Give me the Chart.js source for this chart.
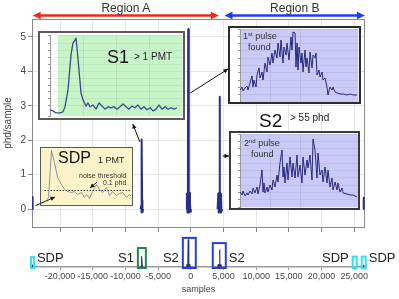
<!DOCTYPE html>
<html>
<head>
<meta charset="utf-8">
<script src="https://cdn.jsdelivr.net/npm/chart.js@4.4.1/dist/chart.umd.min.js"></script>
<style>
html, body { margin: 0; padding: 0; background: #fff; }
#wrap { position: relative; width: 399px; height: 299px; overflow: hidden; font-family: "Liberation Sans", Arial, sans-serif; color: #222; }
canvas { position: absolute; display: block; }
.inset { position: absolute; box-sizing: border-box; background: #fff; }
.inset canvas { left: 0; top: 0; }
.t { position: absolute; white-space: nowrap; line-height: 1; }
.sup { position: relative; top: -3px; font-size: 6px; }
</style>
</head>
<body>
<div id="wrap">
  <canvas id="main" width="399" height="240" style="left:0;top:0"></canvas>
  <canvas id="strip" width="399" height="69" style="left:0;top:230px"></canvas>

  <div class="inset" id="boxS1" style="left:38px;top:31px;width:147px;height:89px;border:2px solid #5a5a5a">
    <canvas id="cS1" width="143" height="85"></canvas>
  </div>
  <div class="inset" id="boxP1" style="left:228px;top:26px;width:133px;height:78px;border:2px solid #2c2c2c">
    <canvas id="cP1" width="129" height="74"></canvas>
  </div>
  <div class="inset" id="boxP2" style="left:229px;top:131px;width:131px;height:79px;border:2px solid #3a3a3a">
    <canvas id="cP2" width="127" height="75"></canvas>
  </div>
  <div class="inset" id="boxSDP" style="left:40px;top:147px;width:93px;height:59px;border:1.5px solid #5a5a5a;background:#fdf3c8">
    <canvas id="cSDP" width="90" height="56"></canvas>
  </div>

  <canvas id="overlay" width="399" height="299" style="left:0;top:0;pointer-events:none"></canvas>

  <div class="t" id="lblA" style="top:2px;font-size:12px;color:#333">Region A</div>
  <div class="t" id="lblB" style="top:2px;font-size:12px;color:#333">Region B</div>

  <div class="t" style="left:107px;top:48px;font-size:18px;color:#111">S1</div>
  <div class="t" style="left:134px;top:51.5px;font-size:10px;color:#222">&gt; 1 PMT</div>

  <div class="t" style="left:243px;top:31.5px;font-size:9px;color:#333">1<span class="sup">st</span> pulse</div>
  <div class="t" style="left:248px;top:43px;font-size:9px;color:#333">found</div>

  <div class="t" style="left:259px;top:111px;font-size:19px;color:#111">S2</div>
  <div class="t" style="left:290px;top:112.5px;font-size:10px;color:#222">&gt; 55 phd</div>

  <div class="t" style="left:244px;top:138.5px;font-size:9px;color:#333">2<span class="sup">nd</span> pulse</div>
  <div class="t" style="left:251px;top:149.5px;font-size:9px;color:#333">found</div>

  <div class="t" style="left:58px;top:149.5px;font-size:16px;color:#111">SDP</div>
  <div class="t" style="left:98px;top:155.5px;font-size:9px;color:#222">1 PMT</div>
  <div class="t" style="left:79px;top:172px;font-size:7px;color:#333">noise threshold</div>
  <div class="t" style="left:103px;top:179px;font-size:7px;color:#333">0.1 phd</div>
</div>

<script>
// axis ticks
const xTicks = [-20000, -15000, -10000, -5000, 0, 5000, 10000, 15000, 20000, 25000];
const yTicks = [0, 1, 2, 3, 4, 5];

// full trace, samples vs phd/sample, only the pulses are stored
const sdpLeftX = [-24280, -24230, -24180];
const sdpLeftY = [0, 0.35, 0];
const s1X = [-7700, -7600, -7550, -7500, -7450, -7400, -7300];
const s1Y = [0, 0.1, -0.1, 2.02, 0.25, -0.09, 0];
const s2aX = [-700, -600, -520, -450, -400, -350, -280, -200, -130, -60, 0];
const s2aY = [0, 0.45, -0.1, 0.3, 5.22, 0.4, -0.1, 0.47, 0.2, -0.08, 0];
const s2bX = [4100, 4200, 4270, 4330, 4400, 4460, 4530, 4600, 4680, 4750];
const s2bY = [0, 0.45, -0.1, 0.4, 3.26, 0.35, -0.1, 0.45, -0.05, 0];
const sdpRightX = [26380, 26430, 26480];
const sdpRightY = [0, 0.33, 0];

// S1 zoom (phd/sample)
const s1ZoomX = [0, 3, 6, 10, 13, 15, 18, 21, 23, 25, 26, 27, 29, 31, 33, 36, 38, 40, 43, 46, 49, 52, 55, 58, 61, 64, 67, 70, 73, 76, 79, 82, 85, 88, 91, 94, 97, 100, 103, 106, 109, 112, 115, 118, 121, 124, 127];
const s1ZoomY = [2.88, 2.85, 2.79, 2.79, 2.82, 2.97, 3.46, 4.48, 4.83, 4.91, 4.97, 4.68, 4.04, 3.37, 3.17, 2.99, 3.08, 2.97, 3.02, 2.9, 3.08, 2.99, 2.9, 2.97, 2.94, 2.97, 2.9, 2.97, 3.05, 2.97, 2.9, 2.99, 2.94, 3.02, 2.9, 2.97, 2.88, 2.94, 2.85, 2.9, 3.02, 2.9, 2.97, 2.9, 2.94, 2.9, 2.94];

// S2 zooms (relative amplitude)
const pulse1X = [0, 2, 3, 5, 7, 8, 10, 12, 13, 14, 16, 17, 19, 20, 22, 23, 25, 27, 28, 30, 32, 33, 35, 37, 38, 40, 41, 43, 44, 46, 47, 49, 51, 52, 53, 55, 56, 57, 58, 59, 61, 62, 63, 65, 66, 67, 69, 70, 72, 73, 75, 76, 77, 79, 80, 82, 83, 85, 87, 88, 90, 92, 93, 95, 97, 98, 100, 103, 107, 110, 113, 117];
const pulse1Y = [16.4, 20.5, 15.1, 19.2, 21.9, 16.4, 26, 35.6, 20.5, 30.1,
  20.5, 37, 46.6, 32.9, 41.1, 30.1, 53.4, 41.1, 61.6, 50.7,
  67.1, 53.4, 71.2, 60.3, 80.8, 61.6, 84.9, 53.4, 75.3, 64.4,
  80.8, 57.5, 89, 71.2, 95.9, 94.5, 47.9, 80.8, 43.8, 75.3,
  53.4, 67.1, 41.1, 71.2, 47.9, 60.3, 39.7, 68.5, 46.6, 64.4,
  60.3, 67.1, 37, 43.8, 34.2, 41.1, 30.1, 32.9, 20.5, 9.6,
  20.5, 16.4, 20.5, 13.7, 12.3, 12.3, 11, 11, 9.6, 11, 9.6, 9.6];
const pulse2X = [0, 2, 3, 5, 7, 8, 10, 12, 13, 15, 17, 18, 20, 22, 23, 24, 25, 27, 28, 30, 32, 33, 35, 37, 38, 40, 42, 43, 44, 45, 47, 48, 50, 52, 53, 55, 57, 58, 60, 62, 63, 65, 67, 68, 70, 72, 73, 75, 77, 78, 80, 82, 83, 85, 87, 88, 90, 92, 93, 95, 97, 98, 100, 102, 103, 107, 110, 113, 117];
const pulse2Y = [20.5, 16.4, 21.9, 15.1, 19.2, 16.4, 21.9, 17.8, 26, 19.2,
  27.4, 17.8, 30.1, 50.7, 20.5, 32.9, 19.2, 27.4, 20.5, 30.1,
  23.3, 37, 27.4, 43.8, 34.2, 60.3, 78.1, 41.1, 54.8, 32.9,
  60.3, 37, 68.5, 41.1, 60.3, 39.7, 71.2, 41.1, 57.5, 32.9,
  68.5, 43.8, 64.4, 53.4, 71.2, 37, 93.2, 78.1, 39.7, 74,
  43.8, 50.7, 34.2, 54.8, 32.9, 50.7, 27.4, 39.7, 23.3, 34.2,
  23.3, 32.9, 20.5, 26, 19.2, 17.8, 16.4, 16.4, 13.7];

// SDP zoom
const sdpZoomX = [5, 7, 10, 13, 16, 20, 23, 26, 30, 33, 36, 40, 43, 45, 48, 51, 55, 58, 61, 65, 68, 71, 75, 78, 81, 85, 88, 90];
const sdpZoomY = [8.8, 12.3, 94.7, 73.7, 47.4, 35.1, 26.3, 22.8, 21, 22.8, 17.5, 21, 12.3, 17.5, 10.5, 22.8, 35.1, 26.3, 21, 29.8, 15.8, 22.8, 15.8, 19.3, 21, 12.3, 17.5, 14];
const noiseThreshold = 24.6;

// strip events (sample windows)
const eventNames = ['SDP', 'S1', 'S2', 'S2', 'SDP', 'SDP'];
const eventStart = [-24460, -8100, -1220, 3360, 24770, 26150];
const eventEnd = [-24000, -6880, 760, 5350, 25380, 26760];

// regions (samples)
const regionNames = ['Region A', 'Region B'];
const regionStart = [-24200, 5150];
const regionEnd = [4300, 26650];

const FONT = '"Liberation Sans", Arial, sans-serif';
const NAVY = '#2a2f85';
const X_MIN = -24300, X_MAX = 26650;

function zip(xs, ys) { return xs.map((x, i) => ({ x: x, y: ys[i] })); }

function joinPulses(list) {
  const pts = [];
  list.forEach(function (p, i) {
    if (i) pts.push({ x: p[0][0] - 1, y: null });
    pts.push.apply(pts, zip(p[0], p[1]));
  });
  return pts;
}

const trace = joinPulses([[sdpLeftX, sdpLeftY], [s1X, s1Y], [s2aX, s2aY], [s2bX, s2bY], [sdpRightX, sdpRightY]]);

const frame = {
  id: 'frame',
  beforeDatasetsDraw(c) {
    const a = c.chartArea, ctx = c.ctx;
    ctx.save();
    ctx.strokeStyle = '#8a8a8a';
    ctx.lineWidth = 1;
    ctx.strokeRect(Math.round(a.left) + 0.5, Math.round(a.top) + 0.5, Math.round(a.right - a.left) - 1, Math.round(a.bottom - a.top));
    ctx.restore();
  }
};

const mainChart = new Chart(document.getElementById('main'), {
  type: 'line',
  data: { datasets: [{ data: trace, borderColor: NAVY, borderWidth: 2, borderJoinStyle: 'round', pointRadius: 0, tension: 0 }] },
  options: {
    responsive: false,
    animation: false,
    layout: { padding: { left: 0, top: 19, right: 34, bottom: 0 } },
    plugins: { legend: { display: false }, tooltip: { enabled: false } },
    scales: {
      x: {
        type: 'linear', min: X_MIN, max: X_MAX,
        afterBuildTicks: s => { s.ticks = xTicks.map(v => ({ value: v })); },
        afterFit: s => { s.height = 13; },
        ticks: { display: false },
        grid: { color: '#e6e6e6', tickColor: '#8a8a8a', tickLength: 5 },
        border: { display: false }
      },
      y: {
        min: -0.52, max: 5.52,
        afterBuildTicks: s => { s.ticks = yTicks.map(v => ({ value: v })); },
        afterFit: s => { s.width = 32; },
        ticks: { font: { size: 10, family: FONT }, color: '#444', padding: 2 },
        grid: { color: '#e6e6e6', tickColor: '#8a8a8a', tickLength: 4 },
        border: { display: false },
        title: { display: true, text: 'phd/sample', font: { size: 10, family: FONT }, color: '#444', padding: { top: 2, bottom: 0 } }
      }
    }
  },
  plugins: [frame]
});

const eventColors = ['#33e0ee', '#1f8a50', '#2440dd', '#2440dd', '#33e0ee', '#33e0ee'];
const eventBoxTop = [1.9, 3.65, 5.6, 4.6, 2.0, 2.0];
const eventSide = ['right', 'left', 'left', 'right', 'left', 'right'];

const eventBoxes = {
  id: 'eventBoxes',
  afterDatasetsDraw(c) {
    const ctx = c.ctx, xs = c.scales.x, ys = c.scales.y;
    ctx.save();
    ctx.lineWidth = 2;
    eventStart.forEach(function (s, i) {
      const x0 = xs.getPixelForValue(s), x1 = xs.getPixelForValue(eventEnd[i]);
      const y0 = ys.getPixelForValue(eventBoxTop[i]), y1 = ys.getPixelForValue(0) + 1;
      ctx.strokeStyle = eventColors[i];
      ctx.strokeRect(x0, y0, x1 - x0, y1 - y0);
    });
    ctx.restore();
  }
};

const stripChart = new Chart(document.getElementById('strip'), {
  type: 'line',
  data: { datasets: [{ data: trace, borderColor: NAVY, borderWidth: 1.2, borderJoinStyle: 'round', pointRadius: 0, tension: 0 }] },
  options: {
    responsive: false,
    animation: false,
    layout: { padding: { left: 32, top: 7, right: 34, bottom: 0 } },
    plugins: { legend: { display: false }, tooltip: { enabled: false } },
    scales: {
      x: {
        type: 'linear', min: X_MIN, max: X_MAX,
        afterBuildTicks: s => { s.ticks = xTicks.map(v => ({ value: v })); },
        afterFit: s => { s.height = 32; },
        ticks: { font: { size: 9, family: FONT }, color: '#444', padding: 1, maxRotation: 0, autoSkip: false },
        grid: { drawOnChartArea: false, tickLength: 3, tickColor: '#9a9a9a' },
        border: { color: '#9a9a9a', width: 1.5 },
        title: { display: true, text: 'samples', font: { size: 9, family: FONT }, color: '#444', padding: { top: 0, bottom: 4.5 } }
      },
      y: { display: false, min: 0, max: 5.77 }
    }
  },
  plugins: [eventBoxes]
});

// event labels next to their boxes
const wrap = document.getElementById('wrap');
eventNames.forEach(function (name, i) {
  const d = document.createElement('div');
  d.className = 't';
  d.textContent = name;
  d.style.fontSize = '13px';
  d.style.color = '#222';
  d.style.top = '251px';
  const x0 = stripChart.scales.x.getPixelForValue(eventStart[i]);
  const x1 = stripChart.scales.x.getPixelForValue(eventEnd[i]);
  if (eventSide[i] === 'left') d.style.right = (399 - (x0 - 4)) + 'px';
  else d.style.left = (x1 + 3) + 'px';
  wrap.appendChild(d);
});

function zoomBackground(color, from) {
  return {
    id: 'zoomBg',
    beforeDraw(c) {
      const a = c.chartArea, ctx = c.ctx;
      const x0 = from == null ? a.left : c.scales.x.getPixelForValue(from);
      ctx.save();
      ctx.fillStyle = color;
      ctx.fillRect(x0, a.top, a.right - x0, a.bottom - a.top);
      ctx.restore();
    }
  };
}

function zoomChart(id, datasets, o) {
  return new Chart(document.getElementById(id), {
    type: 'line',
    data: { datasets: datasets },
    options: {
      responsive: false,
      animation: false,
      layout: { padding: o.padding },
      plugins: { legend: { display: false }, tooltip: { enabled: false } },
      elements: { line: { borderJoinStyle: 'round' } },
      scales: {
        x: {
          type: 'linear', min: o.xMin, max: o.xMax,
          display: o.axes,
          afterFit: s => { s.height = 0; },
          ticks: { display: false, stepSize: o.xStep },
          grid: { color: 'rgba(0,0,0,0.07)', drawTicks: false },
          border: { display: false }
        },
        y: {
          min: o.yMin, max: o.yMax,
          display: o.axes,
          afterFit: s => { s.width = o.yWidth; },
          ticks: { display: false, stepSize: o.yStep },
          grid: { color: 'rgba(0,0,0,0.05)', tickColor: '#9a9a9a', tickLength: 2 },
          border: { color: '#9a9a9a' }
        }
      }
    },
    plugins: [zoomBackground(o.bg, o.bgFrom)]
  });
}

const s1Chart = zoomChart('cS1', [{ data: zip(s1ZoomX, s1ZoomY), borderColor: '#3b4a8c', borderWidth: 1.3, pointRadius: 0 }],
  { padding: { left: 0, right: 1, top: 2, bottom: 2 }, xMin: 0, xMax: 132, xStep: 33, yMin: 2.7, yMax: 5.06, yStep: 0.2, yWidth: 10, axes: true, bg: '#c8f5c8', bgFrom: 8 });

const p1Chart = zoomChart('cP1', [{ data: zip(pulse1X, pulse1Y), borderColor: '#262a7a', borderWidth: 1, pointRadius: 0 }],
  { padding: { left: 0, right: 1, top: 1, bottom: 0 }, xMin: 0, xMax: 118, xStep: 30, yMin: 0, yMax: 100, yStep: 10, yWidth: 10, axes: true, bg: '#c9caf8', bgFrom: null });

const p2Chart = zoomChart('cP2', [{ data: zip(pulse2X, pulse2Y), borderColor: '#262a7a', borderWidth: 1, pointRadius: 0 }],
  { padding: { left: 0, right: 0, top: 1, bottom: 1 }, xMin: 0, xMax: 118, xStep: 30, yMin: 0, yMax: 100, yStep: 10, yWidth: 9, axes: true, bg: '#c9caf8', bgFrom: null });

const sdpChart = zoomChart('cSDP', [
  { data: zip(sdpZoomX, sdpZoomY), borderColor: '#8e90aa', borderWidth: 1, pointRadius: 0 },
  { data: [{ x: 3, y: noiseThreshold }, { x: 90, y: noiseThreshold }], borderColor: '#333', borderWidth: 1, borderDash: [1.5, 1.5], pointRadius: 0 }
], { padding: { left: 0, right: 0, top: 0, bottom: 0 }, xMin: -0.5, xMax: 89.5, xStep: 30, yMin: 0.9, yMax: 99.1, yStep: 10, yWidth: 0, axes: false, bg: 'rgba(0,0,0,0)', bgFrom: null });

// annotations: region arrows and pointers
const ov = document.getElementById('overlay').getContext('2d');
const mx = v => mainChart.scales.x.getPixelForValue(v);
const my = v => mainChart.scales.y.getPixelForValue(v);

function head(ctx, x0, y0, x1, y1, len, half) {
  const a = Math.atan2(y1 - y0, x1 - x0);
  ctx.beginPath();
  ctx.moveTo(x1, y1);
  ctx.lineTo(x1 - len * Math.cos(a) + half * Math.sin(a), y1 - len * Math.sin(a) - half * Math.cos(a));
  ctx.lineTo(x1 - len * Math.cos(a) - half * Math.sin(a), y1 - len * Math.sin(a) + half * Math.cos(a));
  ctx.closePath();
  ctx.fill();
}

function pointer(x0, y0, x1, y1) {
  ov.save();
  ov.strokeStyle = '#111';
  ov.fillStyle = '#111';
  ov.lineWidth = 1;
  ov.beginPath();
  ov.moveTo(x0, y0);
  ov.lineTo(x1, y1);
  ov.stroke();
  head(ov, x0, y0, x1, y1, 4.5, 2.2);
  ov.restore();
}

function span(x0, x1, y, color) {
  ov.save();
  ov.strokeStyle = color;
  ov.fillStyle = color;
  ov.lineWidth = 2.5;
  ov.beginPath();
  ov.moveTo(x0 + 6, y);
  ov.lineTo(x1 - 6, y);
  ov.stroke();
  head(ov, x1, y, x0, y, 8, 3.8);
  head(ov, x0, y, x1, y, 8, 3.8);
  ov.restore();
}

const regionColors = ['#ee2a1a', '#1f3cf2'];
regionNames.forEach(function (n, i) {
  const x0 = mx(regionStart[i]), x1 = mx(regionEnd[i]);
  span(x0, x1, 15.5, regionColors[i]);
  const lbl = document.getElementById(i ? 'lblB' : 'lblA');
  lbl.style.left = ((x0 + x1) / 2) + 'px';
  lbl.style.transform = 'translateX(-50%)';
});

function boxRect(id) {
  const el = document.getElementById(id);
  return { left: el.offsetLeft, top: el.offsetTop, right: el.offsetLeft + el.offsetWidth, bottom: el.offsetTop + el.offsetHeight };
}

const bS1 = boxRect('boxS1'), bP1 = boxRect('boxP1'), bP2 = boxRect('boxP2'), bSDP = boxRect('boxSDP');

// S1 spike -> S1 zoom
const s1Tail = { x: mx(-7500) - 2, y: my(1.95) };
pointer(s1Tail.x, s1Tail.y, s1Tail.x - 7, bS1.bottom + 4);
// first S2 pulse -> top zoom
pointer(mx(-400) + 2, my(3.37), bP1.left, 69);
// second S2 pulse -> lower zoom
const p2y = my(1.54);
pointer(mx(4400) + 3, p2y, bP2.left, p2y);
// SDP spike -> SDP zoom
const sx = v => bSDP.left + 1.5 + sdpChart.scales.x.getPixelForValue(v);
const sy = v => bSDP.top + 1.5 + sdpChart.scales.y.getPixelForValue(v);
pointer(mx(-24230) + 3, my(0.1), sx(13), sy(14));
// noise threshold label -> dotted line
pointer(sx(55), sy(noiseThreshold) - 9, sx(48), sy(noiseThreshold) - 3);
</script>
</body>
</html>
